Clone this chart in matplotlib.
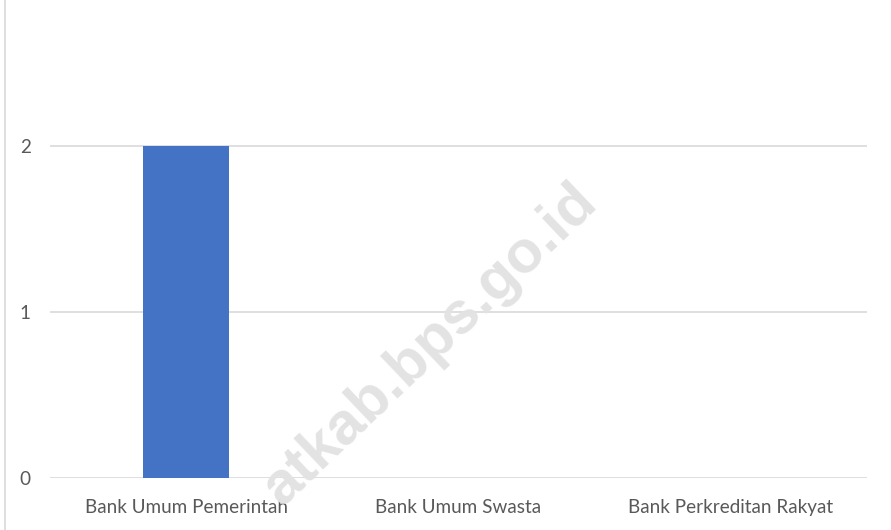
import matplotlib
matplotlib.use("Agg")
import matplotlib.pyplot as plt
from matplotlib.lines import Line2D

categories = ["Bank Umum Pemerintah", "Bank Umum Swasta", "Bank Perkreditan Rakyat"]
values = [2, 0, 0]
yticks = [0, 1, 2]

plt.rcParams['font.family'] = ['Lato', 'DejaVu Sans']

fig = plt.figure(figsize=(8.91, 5.30), dpi=100)
ax = fig.add_axes([50/891, 52/530, 817/891, (478-13)/530])

x = list(range(len(categories)))
ax.bar(x, values, width=0.316, color="#4472C4", zorder=3)
ax.set_xlim(-0.5, len(categories) - 0.5)
ax.set_ylim(0, 2.8)
ax.set_yticks(yticks)
ax.set_yticklabels([str(v) for v in yticks])
ax.set_xticks(x)
ax.set_xticklabels(categories)
ax.yaxis.grid(True, color="#d9d9d9", linewidth=1.2, zorder=0)
ax.set_axisbelow(True)
for s in ax.spines.values():
    s.set_visible(False)
ax.tick_params(axis="both", length=0, colors="#595959", labelsize=13.6)
ax.tick_params(axis="y", pad=14)
ax.tick_params(axis="x", pad=15)

# left border line
fig.add_artist(Line2D([5/891, 5/891], [0, 1], transform=fig.transFigure, color="#d9d9d9", linewidth=1.2))

# watermark
fig.text(430/891, 1 - 345/530, "atkab.bps.go.id", rotation=43.6, rotation_mode="anchor",
         ha="center", va="center", fontsize=43, fontweight="bold", color="#e3e3e3",
         family=["Liberation Sans", "DejaVu Sans"], zorder=10)

fig.savefig("out.png", dpi=100)
